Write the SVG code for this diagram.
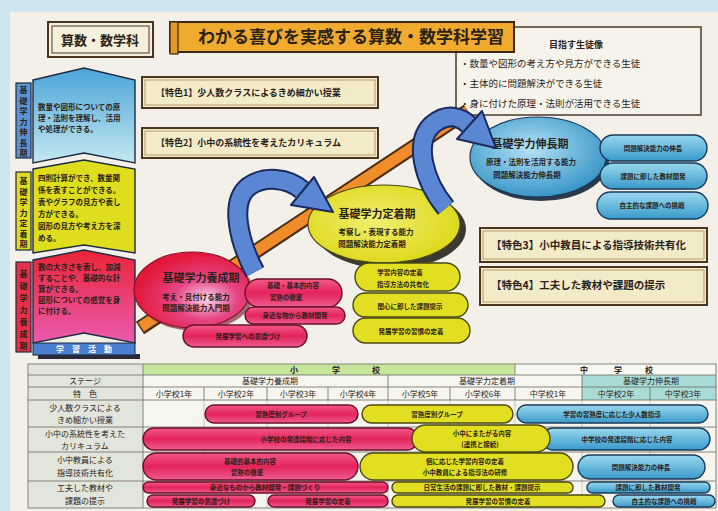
<svg xmlns="http://www.w3.org/2000/svg" width="718" height="511" viewBox="0 0 718 511">
<defs>
<style>
text{font-family:"Noto Sans CJK JP","Noto Sans",sans-serif;fill:#2a2218}
.b{font-weight:700}
.m{text-anchor:middle}
.feat{fill:#f3ebc8;stroke:#4a3520;stroke-width:2}
.feati{fill:none;stroke:#9a7a48;stroke-width:0.7}
.pp{fill:url(#gPill);stroke:#6a1028;stroke-width:1.4}
.yp{fill:#e2de22;stroke:#4a4812;stroke-width:1.4}
.bp{fill:url(#gBlue);stroke:#1a3a5a;stroke-width:1.4}
.ft{font-size:9px}
.gt{font-size:9.5px}
.lt{font-size:8px}
.tt{font-size:7.5px}
.pt{font-size:6.5px;font-weight:700}
.tl{stroke:#6a6a60;stroke-width:0.8;fill:none}
.tf{stroke:#a8a8a0;stroke-width:0.6;fill:none}
.vl{font-size:8px;font-weight:700;text-anchor:middle}
.ao{fill:none;stroke:#1a2a60;stroke-width:21}
.ai{fill:none;stroke:#5a86d4;stroke-width:17}
.ah{fill:#5a86d4;stroke:#1a2a60;stroke-width:2;stroke-linejoin:round}
</style>
<linearGradient id="gPill" x1="0" y1="0" x2="0" y2="1">
<stop offset="0" stop-color="#f25a86"/><stop offset="0.5" stop-color="#e3245a"/><stop offset="1" stop-color="#ef5c92"/>
</linearGradient>
<linearGradient id="gBlue" x1="0" y1="0" x2="0" y2="1">
<stop offset="0" stop-color="#9ad8ee"/><stop offset="1" stop-color="#3a9acb"/>
</linearGradient>
<linearGradient id="gLB" x1="0" y1="0" x2="0" y2="1">
<stop offset="0" stop-color="#4aa4d8"/><stop offset="1" stop-color="#c4e8f0"/>
</linearGradient>
<linearGradient id="gLP" x1="0" y1="0" x2="0" y2="1">
<stop offset="0" stop-color="#ea2436"/><stop offset="1" stop-color="#ea5ab0"/>
</linearGradient>
<radialGradient id="gPE" cx="0.62" cy="0.62" r="0.6">
<stop offset="0" stop-color="#f6d4ec"/><stop offset="0.45" stop-color="#e64686"/><stop offset="1" stop-color="#e2183a"/>
</radialGradient>
<radialGradient id="gYE" cx="0.45" cy="0.45" r="0.6">
<stop offset="0" stop-color="#f0ee70"/><stop offset="1" stop-color="#dcd818"/>
</radialGradient>
<radialGradient id="gBE" cx="0.45" cy="0.4" r="0.6">
<stop offset="0" stop-color="#b4e2f4"/><stop offset="1" stop-color="#3a96c8"/>
</radialGradient>
</defs>

<!-- background -->
<rect x="0" y="0" width="718" height="511" fill="#cfe5ef"/>
<rect x="10" y="12" width="708" height="499" fill="#f2f0e9"/>

<!-- header -->
<g id="subject">
<rect x="48" y="22" width="105" height="35" fill="#f5f0dc" stroke="#4a3520" stroke-width="2"/>
<rect x="52" y="26" width="97" height="27" fill="none" stroke="#4a3520" stroke-width="1"/>
<text x="100" y="45" class="b m" font-size="13">算数・数学科</text>
</g>

<g id="goal">
<rect x="456" y="27" width="245" height="88" fill="#f6f3ea" stroke="#4a3a2a" stroke-width="1.5"/>
<text x="576" y="48" class="b m" font-size="9">目指す生徒像</text>
<text x="460" y="67" class="gt">・数量や図形の考え方や見方ができる生徒</text>
<text x="460" y="87" class="gt">・主体的に問題解決ができる生徒</text>
<text x="460" y="107" class="gt">・身に付けた原理・法則が活用できる生徒</text>
</g>

<g id="title">
<rect x="170" y="22" width="344" height="30" fill="#f0aa2e" stroke="#3a2810" stroke-width="2"/>
<rect x="170" y="22" width="8" height="32" fill="#e49a26" stroke="#3a2810" stroke-width="1.2"/>
<text x="198" y="43" class="b" font-size="17">わかる喜びを実感する算数・数学科学習</text>
</g>

<!-- features -->
<g id="feature1">
<rect x="142" y="77" width="236" height="31" class="feat"/>
<rect x="145" y="80" width="230" height="25" class="feati"/>
<text x="156" y="96" class="ft b">【特色1】少人数クラスによるきめ細かい授業</text>
</g>
<g id="feature2">
<rect x="142" y="128" width="236" height="30" class="feat"/>
<rect x="145" y="131" width="230" height="24" class="feati"/>
<text x="156" y="146" class="ft b">【特色2】小中の系統性を考えたカリキュラム</text>
</g>
<g id="feature3">
<rect x="480" y="228" width="227" height="34" class="feat"/>
<rect x="483" y="231" width="221" height="28" class="feati"/>
<text x="491" y="249" class="b" font-size="10.5">【特色3】小中教員による指導技術共有化</text>
</g>
<g id="feature4">
<rect x="480" y="267" width="227" height="38" class="feat"/>
<rect x="483" y="270" width="221" height="32" class="feati"/>
<text x="491" y="289" class="b" font-size="10.5">【特色4】工夫した教材や課題の提示</text>
</g>

<!-- left stage column -->
<g id="stage-blue">
<rect x="16" y="83" width="15" height="75" fill="#5a94d6" stroke="#1e2a40" stroke-width="1.2"/>
<text class="vl"><tspan x="23.5" y="93">基</tspan><tspan x="23.5" y="103.5">礎</tspan><tspan x="23.5" y="114">学</tspan><tspan x="23.5" y="124.5">力</tspan><tspan x="23.5" y="135">伸</tspan><tspan x="23.5" y="145.5">長</tspan><tspan x="23.5" y="156">期</tspan></text>
<polygon points="33,80 84,68 135,80 135,163 84,153 33,163" fill="url(#gLB)" stroke="#1e2a40" stroke-width="1.4"/>
<text class="tt b"><tspan x="38" y="110">数量や図形についての原</tspan><tspan x="38" y="121">理・法則を理解し、活用</tspan><tspan x="38" y="132">や処理ができる。</tspan></text>
</g>
<g id="stage-yellow">
<rect x="16" y="172" width="15" height="78" fill="#e0dc22" stroke="#1e2a40" stroke-width="1.2"/>
<text class="vl"><tspan x="23.5" y="184">基</tspan><tspan x="23.5" y="194.5">礎</tspan><tspan x="23.5" y="205">学</tspan><tspan x="23.5" y="215.5">力</tspan><tspan x="23.5" y="226">定</tspan><tspan x="23.5" y="236.5">着</tspan><tspan x="23.5" y="247">期</tspan></text>
<polygon points="33,169 84,160 135,169 135,253 84,245 33,253" fill="#dede1e" stroke="#1e2a40" stroke-width="1.4"/>
<text class="tt b"><tspan x="38" y="181">四則計算ができ、数量関</tspan><tspan x="38" y="193">係を表すことができる。</tspan><tspan x="38" y="205">表やグラフの見方や表し</tspan><tspan x="38" y="217">方ができる。</tspan><tspan x="38" y="229">図形の見方や考え方を深</tspan><tspan x="38" y="241">める。</tspan></text>
</g>
<g id="stage-pink">
<rect x="16" y="262" width="15" height="90" fill="#e63048" stroke="#1e2a40" stroke-width="1.2"/>
<text class="vl"><tspan x="23.5" y="277">基</tspan><tspan x="23.5" y="289">礎</tspan><tspan x="23.5" y="301">学</tspan><tspan x="23.5" y="313">力</tspan><tspan x="23.5" y="325">養</tspan><tspan x="23.5" y="337">成</tspan><tspan x="23.5" y="349">期</tspan></text>
<polygon points="33,260 84,250 135,260 135,343 84,333 33,343" fill="url(#gLP)" stroke="#1e2a40" stroke-width="1.4"/>
<text class="tt b"><tspan x="38" y="270">数の大きさを表し、加減</tspan><tspan x="38" y="281">することや、基礎的な計</tspan><tspan x="38" y="292">算ができる。</tspan><tspan x="38" y="303">図形についての感覚を身</tspan><tspan x="38" y="314">に付ける。</tspan></text>
</g>
<g id="activity">
<rect x="38" y="354" width="102" height="5" fill="#2a2a3a"/>
<rect x="33" y="343" width="102" height="12" fill="#4a7ed0" stroke="#1e2a40" stroke-width="1"/>
<text x="84" y="352" class="m b" font-size="8" style="fill:#fff">学　習　活　動</text>
</g>

<!-- connectors -->
<g id="connectors">
<line x1="140" y1="328" x2="468" y2="111" stroke="#4a2e10" stroke-width="15"/>
<line x1="141" y1="327" x2="468" y2="111" stroke="#f08c2a" stroke-width="11"/>
</g>

<!-- ellipses -->
<g id="phase-pink">
<ellipse cx="195" cy="293" rx="59" ry="38" fill="#6a1020" opacity="0.6"/>
<ellipse cx="192" cy="290" rx="58" ry="38" fill="url(#gPE)" stroke="#8a1028" stroke-width="1.2"/>
<text x="201" y="282" class="m b" font-size="11">基礎学力養成期</text>
<text x="196" y="300" class="m b" font-size="7.5">考え・見付ける能力</text>
<text x="196" y="311" class="m b" font-size="7.5">問題解決能力入門期</text>
</g>
<g id="phase-yellow">
<ellipse cx="390" cy="229" rx="76" ry="40" fill="#3a3a30"/>
<ellipse cx="384" cy="224" rx="76" ry="39" fill="url(#gYE)" stroke="#4a4812" stroke-width="1.2"/>
<text x="377" y="218" class="m b" font-size="11">基礎学力定着期</text>
<text x="376" y="235" class="m b" font-size="7.5">考察し・表現する能力</text>
<text x="372" y="247" class="m b" font-size="7.5">問題解決能力定着期</text>
</g>
<g id="phase-blue">
<ellipse cx="541" cy="161" rx="68" ry="40" fill="#2a3a4a"/>
<ellipse cx="538" cy="157" rx="68" ry="40" fill="url(#gBE)" stroke="#1a3a5a" stroke-width="1.2"/>
<text x="530" y="148" class="m b" font-size="11">基礎学力伸長期</text>
<text x="531" y="165" class="m b" font-size="7.5">原理・法則を活用する能力</text>
<text x="527" y="178" class="m b" font-size="7.5">問題解決能力伸長期</text>
</g>

<!-- curved arrows -->
<g id="arrows">
<path d="M255 272 C238 240 230 202 248 187 C264 175 288 178 302 190" class="ao"/>
<path d="M255 272 C238 240 230 202 248 187 C264 175 288 178 302 190" class="ai"/>
<polygon points="291,205 314,177 333,212" class="ah"/>
<path d="M446 208 C423 180 414 142 432 125 C446 113 460 116 469 125" class="ao"/>
<path d="M446 208 C423 180 414 142 432 125 C446 113 460 116 469 125" class="ai"/>
<polygon points="457,139 482,111 496,148" class="ah"/>
</g>

<!-- phase pills -->
<g id="pink-pills">
<rect x="245" y="279" width="97" height="28" rx="14" class="pp"/>
<text x="293" y="288" class="m pt">基礎・基本的内容</text>
<text x="286" y="300" class="m pt">習熟の徹底</text>
<rect x="245" y="307" width="100" height="17" rx="8.5" class="pp"/>
<text x="295" y="318" class="m pt">身近な物から教材開発</text>
<rect x="183" y="325" width="124" height="22" rx="11" class="pp"/>
<text x="248" y="339" class="m pt">発展学習への意識づけ</text>
</g>
<g id="yellow-pills">
<rect x="355" y="263" width="105" height="28" rx="14" class="yp"/>
<text x="400" y="275" class="m pt">学習内容の定着</text>
<text x="403" y="287" class="m pt">指導方法の共有化</text>
<rect x="353" y="293" width="115" height="24" rx="12" class="yp"/>
<text x="410" y="309" class="m pt">関心に即した課題提示</text>
<rect x="353" y="318" width="117" height="25" rx="12.5" class="yp"/>
<text x="411" y="334" class="m pt">発展学習の習慣の定着</text>
</g>
<g id="blue-pills">
<rect x="600" y="135" width="107" height="26" rx="13" class="bp"/>
<text x="653" y="151" class="m pt">問題解決能力の伸長</text>
<rect x="600" y="163" width="107" height="26" rx="13" class="bp"/>
<text x="653" y="179" class="m pt">課題に即した教材開発</text>
<rect x="597" y="192" width="111" height="27" rx="13.5" class="bp"/>
<text x="652" y="208" class="m pt">自主的な課題への挑戦</text>
</g>

<!-- table -->
<g id="table">
<rect x="28" y="364" width="688" height="144" fill="#f6f5ee"/>
<rect x="28" y="364" width="115" height="144" fill="#e2e5db"/>
<rect x="143" y="364" width="372" height="11" fill="#c6e69c"/>
<rect x="515" y="364" width="201" height="11" fill="#f8f8f3"/>
<rect x="582" y="375" width="134" height="25" fill="#a9dcd6"/>
<g class="tf">
<line x1="204" y1="400" x2="204" y2="508"/><line x1="267" y1="400" x2="267" y2="508"/><line x1="328" y1="400" x2="328" y2="508"/><line x1="388" y1="400" x2="388" y2="508"/><line x1="450" y1="400" x2="450" y2="508"/><line x1="515" y1="400" x2="515" y2="508"/><line x1="582" y1="400" x2="582" y2="508"/><line x1="650" y1="400" x2="650" y2="508"/>
</g>
<g class="tl">
<rect x="28" y="364" width="688" height="144"/>
<line x1="28" y1="375" x2="716" y2="375"/><line x1="28" y1="387" x2="716" y2="387"/><line x1="28" y1="400" x2="716" y2="400"/><line x1="28" y1="427" x2="716" y2="427"/><line x1="28" y1="452" x2="716" y2="452"/><line x1="28" y1="481" x2="716" y2="481"/>
<line x1="143" y1="364" x2="143" y2="508"/>
<line x1="515" y1="364" x2="515" y2="375"/>
<line x1="388" y1="375" x2="388" y2="387"/><line x1="582" y1="375" x2="582" y2="387"/>
<line x1="204" y1="387" x2="204" y2="400"/><line x1="267" y1="387" x2="267" y2="400"/><line x1="328" y1="387" x2="328" y2="400"/><line x1="388" y1="387" x2="388" y2="400"/><line x1="450" y1="387" x2="450" y2="400"/><line x1="515" y1="387" x2="515" y2="400"/><line x1="582" y1="387" x2="582" y2="400"/><line x1="650" y1="387" x2="650" y2="400"/>
</g>
<text class="lt b"><tspan x="290" y="373">小</tspan><tspan x="332" y="373">学</tspan><tspan x="372" y="373">校</tspan><tspan x="580" y="373">中</tspan><tspan x="614" y="373">学</tspan><tspan x="645" y="373">校</tspan></text>
<text x="85" y="384" class="m lt">ステージ</text>
<text x="85" y="397" class="m lt">特　色</text>
<text x="270" y="384" class="m lt">基礎学力養成期</text>
<text x="487" y="384" class="m lt">基礎学力定着期</text>
<text x="651" y="384" class="m lt">基礎学力伸長期</text>
<text y="397" class="m lt"><tspan x="174">小学校1年</tspan><tspan x="236">小学校2年</tspan><tspan x="298">小学校3年</tspan><tspan x="358">小学校4年</tspan><tspan x="420">小学校5年</tspan><tspan x="483">小学校6年</tspan><tspan x="548">中学校1年</tspan><tspan x="616">中学校2年</tspan><tspan x="683">中学校3年</tspan></text>
<text x="85" y="411" class="m lt">少人数クラスによる</text>
<text x="85" y="423" class="m lt">きめ細かい授業</text>
<text x="85" y="437" class="m lt">小中の系統性を考えた</text>
<text x="85" y="449" class="m lt">カリキュラム</text>
<text x="85" y="463" class="m lt">小中教員による</text>
<text x="85" y="476" class="m lt">指導技術共有化</text>
<text x="85" y="491" class="m lt">工夫した教材や</text>
<text x="85" y="504" class="m lt">課題の提示</text>
</g>

<g id="row-small-class">
<rect x="205" y="405" width="153" height="18" rx="9" class="pp"/>
<text x="281" y="416.5" class="m pt">習熟度別グループ</text>
<rect x="362" y="405" width="151" height="18" rx="9" class="yp"/>
<text x="437" y="416.5" class="m pt">習熟度別グループ</text>
<rect x="517" y="405" width="191" height="18" rx="9" class="bp"/>
<text x="612" y="416.5" class="m pt">学習の習熟度に応じた少人数指導</text>
</g>
<g id="row-curriculum">
<rect x="143" y="428" width="275" height="22" rx="11" class="pp"/>
<text x="306" y="441.5" class="m pt">小学校の発達段階に応じた内容</text>
<rect x="542" y="428" width="168" height="22" rx="11" class="bp"/>
<text x="627" y="441.5" class="m pt">中学校の発達段階に応じた内容</text>
<rect x="412" y="425" width="138" height="27" rx="13.5" class="yp"/>
<text x="482" y="436" class="m pt">小中にまたがる内容</text>
<text x="480" y="447" class="m pt">(連携と接続)</text>
</g>
<g id="row-teachers">
<rect x="143" y="453" width="215" height="27" rx="13.5" class="pp"/>
<text x="250" y="464" class="m pt">基礎的基本的内容</text>
<text x="247" y="475" class="m pt">習熟の徹底</text>
<rect x="360" y="453" width="213" height="27" rx="13.5" class="yp"/>
<text x="465" y="464" class="m pt">個に応じた学習内容の定着</text>
<text x="465" y="475" class="m pt">小中教員による指導法の研修</text>
<rect x="578" y="455" width="127" height="24" rx="12" class="bp"/>
<text x="641" y="469.5" class="m pt">問題解決能力の伸長</text>
</g>
<g id="row-materials">
<rect x="143" y="482" width="245" height="11" rx="5.5" class="pp"/>
<text x="265" y="490" class="m pt">身近なものから教材開発・課題づくり</text>
<rect x="392" y="482" width="181" height="11" rx="5.5" class="yp"/>
<text x="482" y="490" class="m pt">日常生活の課題に即した教材・課題提示</text>
<rect x="587" y="482" width="123" height="11" rx="5.5" class="bp"/>
<text x="648" y="490" class="m pt">課題に即した教材開発</text>
<rect x="147" y="495" width="108" height="12" rx="6" class="pp"/>
<text x="201" y="503.5" class="m pt">発展学習の意識づけ</text>
<rect x="268" y="495" width="120" height="12" rx="6" class="pp"/>
<text x="328" y="503.5" class="m pt">発展学習の定着</text>
<rect x="392" y="495" width="213" height="12" rx="6" class="yp"/>
<text x="498" y="503.5" class="m pt">発展学習の習慣の定着</text>
<rect x="613" y="495" width="102" height="12" rx="6" class="bp"/>
<text x="664" y="503.5" class="m pt">自主的な課題への挑戦</text>
</g>
</svg>
